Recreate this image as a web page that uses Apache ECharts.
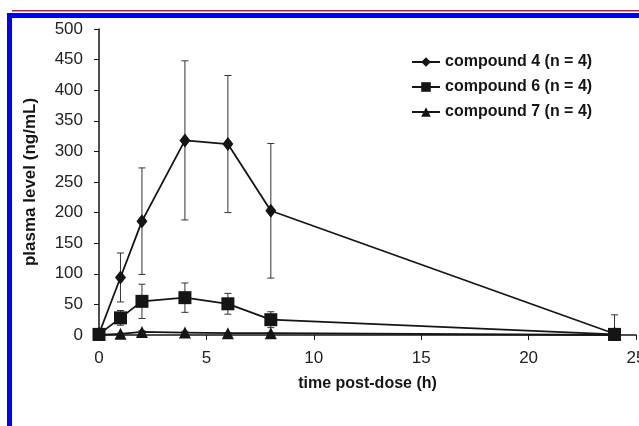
<!DOCTYPE html>
<html><head><meta charset="utf-8">
<script src="https://cdn.jsdelivr.net/npm/echarts@6/dist/echarts.min.js"></script>
<style>html,body{margin:0;padding:0;background:#fff}#c{width:639px;height:426px}</style>
</head><body><div id="c"></div>
<script>
const times = [0, 1, 2, 4, 6, 8, 24];
const names = ['compound 4 (n = 4)', 'compound 6 (n = 4)', 'compound 7 (n = 4)'];
const c4 = [2, 94, 186, 318, 312, 203, 2];
const c4Sd = [0, 40, 87, 130, 112, 110, 31];
const c6 = [1, 28, 55, 61, 51, 25, 1];
const c6Sd = [0, 12, 28, 24, 17, 13, 0];
const c7 = [0, 2, 5, 4, 3, 3, 0];
const c7Sd = [0, 1, 2, 2, 1, 1, 0];
const yTicks = [0, 50, 100, 150, 200, 250, 300, 350, 400, 450, 500];
const xTicks = [0, 5, 10, 15, 20, 25];

const FONT = '"Liberation Sans", Arial, sans-serif';
const INK = '#151515';

function pts(vals){ return times.map((t,i)=>[t, vals[i]]); }
function errs(vals, sd){
  return times.map((t,i)=>[t, Math.max(0, vals[i]-sd[i]), vals[i]+sd[i]]).filter((d,i)=>sd[i]>0);
}
function errItem(params, api){
  const x = api.value(0), lo = api.value(1), hi = api.value(2);
  const pLo = api.coord([x, lo]), pHi = api.coord([x, hi]);
  const w = 3.5;
  const st = {stroke:'#333', lineWidth:1};
  const ch = [
    {type:'line', shape:{x1:pLo[0], y1:pLo[1], x2:pHi[0], y2:pHi[1]}, style:st},
    {type:'line', shape:{x1:pHi[0]-w, y1:pHi[1], x2:pHi[0]+w, y2:pHi[1]}, style:st}
  ];
  if (lo > 0) ch.push({type:'line', shape:{x1:pLo[0]-w, y1:pLo[1], x2:pLo[0]+w, y2:pLo[1]}, style:st});
  return {type:'group', children:ch};
}
function errSeries(vals, sd){
  return {type:'custom', renderItem:errItem, data:errs(vals, sd), z:1, silent:true,
    encode:{x:0, y:[1,2]}};
}
function lineSeries(name, vals, symbol, size){
  return {name, type:'line', data:pts(vals), symbol, symbolSize:size, z:3,
    lineStyle:{color:INK, width:1.8}, itemStyle:{color:INK}, animation:false};
}

const chart = echarts.init(document.getElementById('c'), null, {renderer:'canvas'});
chart.setOption({
  animation:false,
  backgroundColor:'#fff',
  grid:{left:99, top:29, width:537, height:306, containLabel:false, outerBoundsMode:'none'},
  legend:{
    data:names, orient:'vertical', left:406, top:49, itemGap:9,
    itemWidth:28, itemHeight:12,
    textStyle:{fontFamily:FONT, fontWeight:'bold', fontSize:16, color:INK}
  },
  xAxis:{type:'value', min:0, max:25, interval:5,
    name:'time post-dose (h)', nameLocation:'middle', nameGap:41,
    nameTextStyle:{fontFamily:FONT, fontWeight:'bold', fontSize:16, color:INK},
    axisLine:{lineStyle:{color:INK, width:1.5}},
    axisTick:{inside:false, length:5, lineStyle:{color:INK}},
    axisLabel:{fontFamily:FONT, fontSize:17, color:'#222', margin:15,
      formatter:v=>xTicks.includes(v)?String(v):''},
    splitLine:{show:false}},
  yAxis:{type:'value', min:0, max:500, interval:50,
    name:'plasma level (ng/mL)', nameLocation:'middle', nameGap:60, nameRotate:90,
    nameTextStyle:{fontFamily:FONT, fontWeight:'bold', fontSize:17, color:INK},
    axisLine:{show:true, lineStyle:{color:INK, width:1.5}},
    axisTick:{show:true, inside:false, length:5, lineStyle:{color:INK}},
    axisLabel:{fontFamily:FONT, fontSize:17, color:'#222', margin:16,
      formatter:v=>yTicks.includes(v)?String(v):''},
    splitLine:{show:false}},
  series:[
    errSeries(c4, c4Sd), errSeries(c6, c6Sd), errSeries(c7, c7Sd),
    lineSeries(names[0], c4, 'diamond', [11,14]),
    lineSeries(names[1], c6, 'rect', 13),
    lineSeries(names[2], c7, 'triangle', 12)
  ],
  graphic:[
    {type:'rect', shape:{x:12, y:10, width:627, height:1.6}, style:{fill:'#9e2a44'}, silent:true},
    {type:'rect', shape:{x:7, y:13, width:632, height:5}, style:{fill:'#0000ff'}, silent:true},
    {type:'rect', shape:{x:7, y:13, width:5, height:413}, style:{fill:'#0000ff'}, silent:true}
  ]
});
</script></body></html>
